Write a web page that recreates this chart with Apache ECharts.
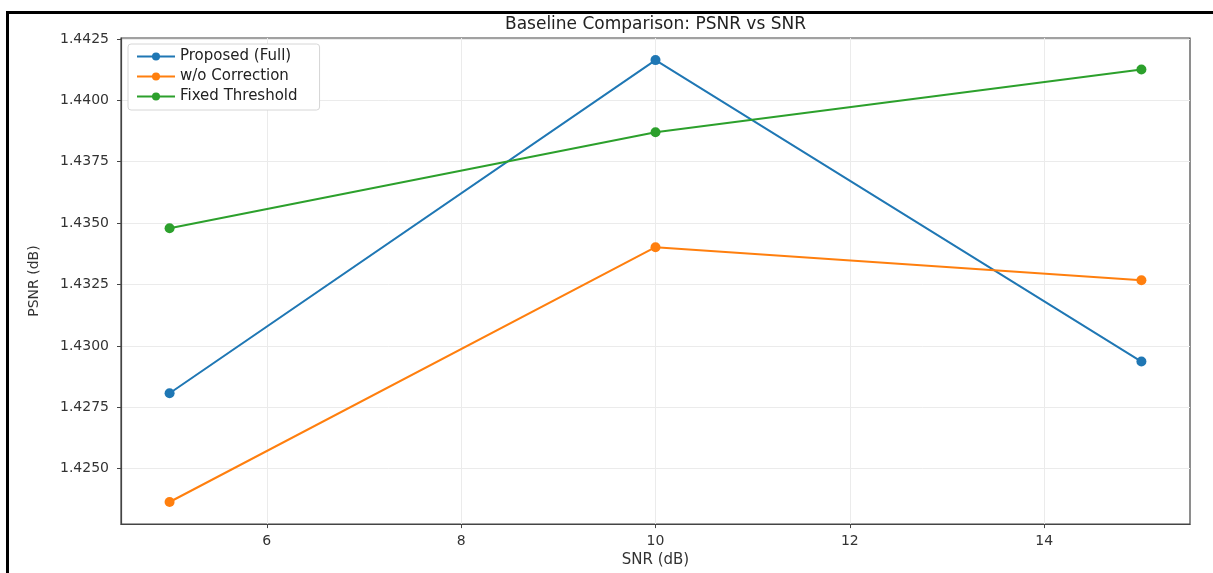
<!DOCTYPE html>
<html>
<head>
<meta charset="utf-8">
<title>Baseline Comparison: PSNR vs SNR</title>
<script src="https://cdn.jsdelivr.net/npm/echarts@6/dist/echarts.min.js"></script>
<style>
  html, body { margin: 0; padding: 0; background: #fff; overflow: hidden; }
  #wrap { position: relative; width: 1213px; height: 573px; }
  #chart { position: absolute; left: 0; top: 0; width: 1213px; height: 573px; }
  #frame {
    position: absolute; left: 6px; top: 11px; width: 1220px; height: 600px;
    border-left: 3px solid #000; border-top: 3px solid #000; pointer-events: none;
  }
</style>
</head>
<body>
<div id="wrap">
  <div id="chart"></div>
  <div id="frame"></div>
</div>
<script>
// data
const snrValues = [5, 10, 15]
const proposedFull = [1.42807, 1.44164, 1.42936]
const withoutCorrection = [1.42364, 1.43402, 1.43267]
const fixedThreshold = [1.43479, 1.43870, 1.44126]

const xTicks = [6, 8, 10, 12, 14]
const yTicks = [1.4250, 1.4275, 1.4300, 1.4325, 1.4350, 1.4375, 1.4400, 1.4425]
const xRange = [4.5, 15.5]
const yRange = [1.42274, 1.44254]

const FONT = 'DejaVu Sans'
const axisColor = '#444'
const textColor = '#333'
const gridColor = '#ebebeb'

const toPoints = (ys) => snrValues.map((x, i) => [x, ys[i]])

const makeSeries = (name, ys, color) => ({
  name,
  type: 'line',
  data: toPoints(ys),
  symbol: 'circle',
  symbolSize: 10,
  showSymbol: true,
  lineStyle: { width: 2, color },
  itemStyle: { color },
  emphasis: { disabled: true }
})

const chart = echarts.init(document.getElementById('chart'), null, { renderer: 'canvas' })

const option = {
  animation: false,
  textStyle: { fontFamily: FONT },
  title: {
    text: 'Baseline Comparison: PSNR vs SNR',
    left: 655.5,
    textAlign: 'center',
    top: 16,
    padding: 0,
    textStyle: { fontFamily: FONT, fontSize: 17, fontWeight: 'normal', color: '#222' }
  },
  legend: {
    orient: 'vertical',
    left: 128,
    top: 44,
    itemWidth: 38,
    itemHeight: 10,
    itemGap: 5,
    padding: [5, 22, 6, 8],
    backgroundColor: '#fff',
    borderColor: '#d6d6d6',
    borderWidth: 1,
    borderRadius: 3,
    textStyle: { fontFamily: FONT, fontSize: 15, color: '#222' },
    data: ['Proposed (Full)', 'w/o Correction', 'Fixed Threshold']
  },
  grid: {
    left: 121,
    right: 23,
    top: 38,
    bottom: 45,
    show: true,
    borderColor: axisColor,
    borderWidth: 1.2,
    backgroundColor: 'transparent'
  },
  xAxis: {
    type: 'value',
    min: xRange[0],
    max: xRange[1],
    name: 'SNR (dB)',
    nameLocation: 'middle',
    nameGap: 28,
    nameTextStyle: { fontFamily: FONT, fontSize: 15, color: textColor },
    axisLine: { show: true, lineStyle: { color: axisColor, width: 1.2 } },
    axisTick: { show: true, inside: false, length: 4, customValues: xTicks, lineStyle: { color: axisColor } },
    axisLabel: { customValues: xTicks, margin: 10, fontFamily: FONT, fontSize: 14, color: textColor },
    splitLine: { show: true, lineStyle: { color: gridColor, width: 1 } }
  },
  yAxis: {
    type: 'value',
    min: yRange[0],
    max: yRange[1],
    name: 'PSNR (dB)',
    nameLocation: 'middle',
    nameGap: 80,
    nameTextStyle: { fontFamily: FONT, fontSize: 14, color: textColor },
    axisLine: { show: true, lineStyle: { color: axisColor, width: 1.2 } },
    axisTick: { show: true, inside: false, length: 4, customValues: yTicks, lineStyle: { color: axisColor } },
    axisLabel: {
      customValues: yTicks,
      margin: 12,
      fontFamily: FONT,
      fontSize: 14,
      color: textColor,
      formatter: (v) => v.toFixed(4)
    },
    splitLine: { show: true, lineStyle: { color: gridColor, width: 1 } }
  },
  series: [
    makeSeries('Proposed (Full)', proposedFull, '#1f77b4'),
    makeSeries('w/o Correction', withoutCorrection, '#ff7f0e'),
    makeSeries('Fixed Threshold', fixedThreshold, '#2ca02c')
  ]
}

chart.setOption(option)
</script>
</body>
</html>
